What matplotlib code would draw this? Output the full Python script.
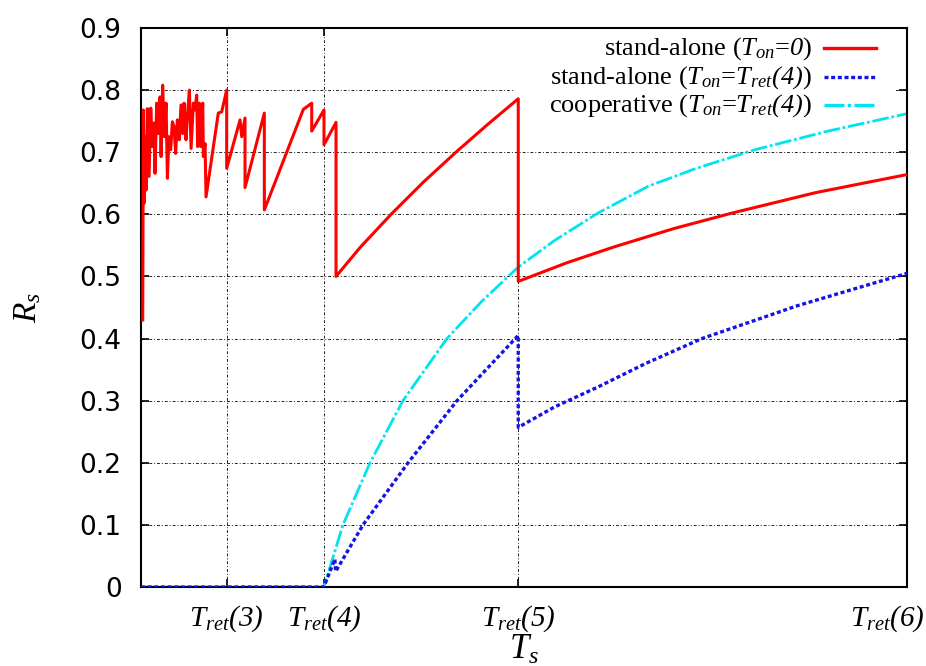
# plot.py
#
# Throughput R_s vs. time T_s for a stand-alone and a cooperative scheme.
# x is in units of T_s, with T_ret(k) sitting at 2**k.

import matplotlib
matplotlib.use("Agg")
import matplotlib.pyplot as plt
import matplotlib.transforms as mtransforms
from matplotlib.lines import Line2D
from matplotlib.patches import Rectangle

# all math text in italic Times-like serif (gnuplot enhanced-text look)
plt.rcParams["mathtext.fontset"] = "custom"
plt.rcParams["mathtext.rm"] = "Liberation Serif:italic"
plt.rcParams["mathtext.it"] = "Liberation Serif:italic"

SERIF = "Liberation Serif"

# --- data -------------------------------------------------------------------
TRET_POS = [8, 16, 32, 64]
TRET_LABELS = [r"$T_{ret}(3)$", r"$T_{ret}(4)$",
               r"$T_{ret}(5)$", r"$T_{ret}(6)$"]
Y_TICKS = [0, 0.1, 0.2, 0.3, 0.4, 0.5, 0.6, 0.7, 0.8, 0.9]
Y_LABELS = ["0", "0.1", "0.2", "0.3", "0.4", "0.5", "0.6", "0.7", "0.8", "0.9"]

# stand-alone, T_on = 0
red_x = [1.09, 1.14, 1.20, 1.28, 1.36, 1.47, 1.61, 1.75, 1.88, 2.02, 2.10,
         2.24, 2.38, 2.51, 2.60, 2.73, 2.87, 3.01, 3.12, 3.25, 3.39, 3.53,
         3.67, 3.80, 3.94, 4.10, 4.24, 4.38, 4.49, 4.65, 4.76, 4.93, 5.07,
         5.26, 5.39, 5.53, 5.61, 5.75, 5.86, 6.03, 6.08, 6.22, 6.30, 7.31,
         7.59, 8.00, 8.00, 9.10, 9.24, 9.51, 9.51, 11.10, 11.10, 14.31,
         15.00, 15.00, 16.01, 16.01, 17.00, 17.00, 19.0, 21.53, 24.2, 26.87,
         29.5, 32.0, 32.0, 36.0, 39.96, 44.8, 49.59, 56.5, 64.0]
red_y = [0.430, 0.768, 0.618, 0.725, 0.639, 0.770, 0.661, 0.771, 0.709,
         0.747, 0.666, 0.779, 0.730, 0.789, 0.693, 0.808, 0.725, 0.779,
         0.658, 0.725, 0.704, 0.749, 0.741, 0.698, 0.752, 0.720, 0.776,
         0.730, 0.779, 0.720, 0.757, 0.800, 0.706, 0.779, 0.768, 0.792,
         0.709, 0.779, 0.709, 0.779, 0.693, 0.714, 0.628, 0.763, 0.765,
         0.800, 0.674, 0.752, 0.725, 0.755, 0.643, 0.763, 0.607, 0.769,
         0.779, 0.734, 0.768, 0.712, 0.748, 0.500, 0.547, 0.600, 0.652,
         0.700, 0.745, 0.786, 0.492, 0.522, 0.548, 0.577, 0.602, 0.635,
         0.664]

# stand-alone, T_on = T_ret(4)
blue_x = [0.95, 16.0, 16.9, 16.97, 19.22, 21.0, 22.93, 26.96, 29.5, 32.0,
          32.0, 35.0, 38.56, 42.5, 47.12, 55.0, 64.0]
blue_y = [0.0, 0.0, 0.045, 0.025, 0.100, 0.148, 0.200, 0.300, 0.353, 0.405,
          0.257, 0.290, 0.322, 0.360, 0.400, 0.453, 0.505]

# cooperative, T_on = T_ret(4)
cyan_x = [0.95, 16.0, 17.57, 19.8, 22.51, 26.13, 29.0, 32.0, 35.0, 38.56,
          42.68, 46.5, 51.48, 57.5, 64.0]
cyan_y = [0.0, 0.0, 0.100, 0.200, 0.300, 0.400, 0.460, 0.515, 0.558, 0.602,
          0.645, 0.673, 0.704, 0.734, 0.762]

LEGEND = [
    (r"stand-alone ($T_{on}$=$0$)", "red", "-"),
    (r"stand-alone ($T_{on}$=$T_{ret}(4)$)", "#1414e6", (0, (1.2, 0.8))),
    (r"cooperative ($T_{on}$=$T_{ret}(4)$)", "#00e4f0",
     (0, (6, 1, 1, 1))),
]

# --- figure -----------------------------------------------------------------
fig = plt.figure(figsize=(9.26, 6.66), dpi=100)
ax = fig.add_axes([0.1523, 0.1186, 0.8272, 0.8394])

ax.plot(red_x, red_y, color=LEGEND[0][1], ls=LEGEND[0][2], lw=2.2, zorder=3)
ax.plot(blue_x, blue_y, color=LEGEND[1][1], ls=LEGEND[1][2], lw=2.4, zorder=3)
ax.plot(cyan_x, cyan_y, color=LEGEND[2][1], ls=LEGEND[2][2], lw=2.0, zorder=2)

ax.set_xlim(0.95, 64)
ax.set_ylim(0, 0.9)

ax.set_xticks(TRET_POS)
ax.set_xticklabels(TRET_LABELS, fontsize=21)
ax.set_yticks(Y_TICKS)
ax.set_yticklabels(Y_LABELS, fontsize=19)
ax.tick_params(direction="in", length=6, width=1.2, top=True, right=True)
ax.tick_params(axis="x", pad=12)
ax.tick_params(axis="y", pad=14)

# last x label sits a bit left of its tick so it stays inside the figure
shift = mtransforms.ScaledTranslation(-20 / 100, 0, fig.dpi_scale_trans)
last = ax.get_xticklabels()[-1]
last.set_transform(last.get_transform() + shift)

for s in ax.spines.values():
    s.set_linewidth(1.5)

ax.grid(True, color="#222222", lw=0.7, ls=(0, (3, 2, 1, 2)), zorder=0.5)
ax.set_axisbelow(True)

ax.set_xlabel(r"$T_s$", fontsize=25, labelpad=-2)
ax.set_ylabel(r"$R_s$", fontsize=24, labelpad=26)

# gnuplot-style key: white box, text right-aligned, sample on the right
ax.add_patch(Rectangle((0.488, 0.846), 0.496, 0.154, transform=ax.transAxes,
                       facecolor="white", edgecolor="none", zorder=1))
rows_y = [0.964, 0.912, 0.862]
for (label, color, ls), ry in zip(LEGEND, rows_y):
    ax.text(0.876, ry, label, transform=ax.transAxes, ha="right", va="center",
            fontsize=19, family=SERIF, zorder=4)
    ax.add_line(Line2D([0.891, 0.959], [ry, ry], transform=ax.transAxes,
                       color=color, ls=ls, lw=2.4, zorder=4))

fig.savefig("out.png", dpi=100)
print("Wrote out.png")
